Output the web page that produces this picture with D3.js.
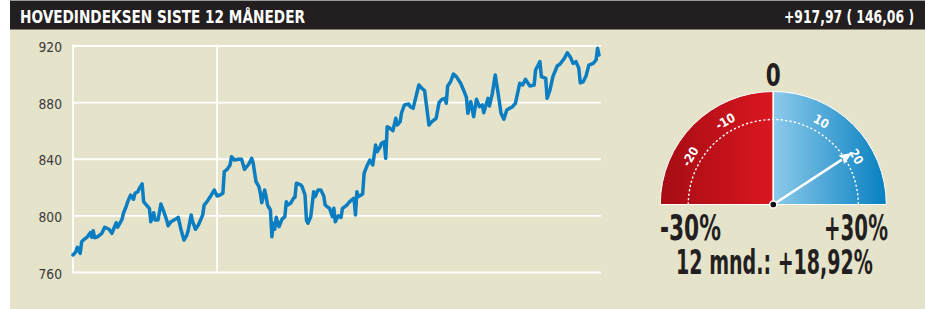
<!DOCTYPE html>
<html><head><meta charset="utf-8">
<script src="https://cdn.jsdelivr.net/npm/d3@7"></script>
<style>
html,body{margin:0;padding:0;background:#fff;}
svg{display:block;}
text{font-family:"Liberation Sans Narrow","DejaVu Sans Condensed","Arial Narrow",sans-serif;}
</style></head>
<body>
<script>
// ---------- DATA ----------
const title = "HOVEDINDEKSEN SISTE 12 MÅNEDER";
const headerValue = "+917,97 ( 146,06 )";
const yTicks = [760, 800, 840, 880, 920];
const vLineDays = [0, 100];
const days = [0,2,3,5,6,8,10,12,13,14,15,17,20,22,25,27,30,31,34,35,37,38,40,42,43,45,46,48,49,51,53,54,56,57,59,61,63,65,66,68,71,73,75,77,79,80,82,83,85,87,89,90,91,93,96,98,100,102,104,105,107,109,110,112,115,117,119,122,124,125,127,129,130,131,133,134,135,137,138,139,140,141,143,145,147,148,149,151,153,154,155,158,159,161,162,163,165,167,168,170,172,174,175,178,180,181,182,184,186,187,190,192,195,196,197,198,201,202,204,206,208,210,211,213,214,216,217,218,220,222,224,225,227,228,230,233,234,236,238,240,242,244,247,249,252,254,256,258,259,260,262,264,266,269,271,273,274,276,278,280,282,284,285,288,289,291,293,295,297,299,301,305,307,308,310,312,314,317,320,321,324,325,328,329,331,333,336,338,341,343,345,347,349,351,352,354,356,358,361,363,364,365];
const closes = [772.0,774.3,777.4,773.2,781.4,783.3,784.9,787.8,784.5,789.2,784.2,784.9,787.3,791.6,790.2,787.3,794.8,791.6,797.2,801.5,806.6,809.7,814.4,811.4,815.6,816.7,819.1,822.2,809.7,807.3,805.0,795.5,801.9,796.7,796.7,808.0,802.6,796.7,792.7,795.5,797.2,798.6,789.7,782.6,786.1,789.7,800.3,795.5,790.2,793.2,797.9,800.3,807.3,809.7,814.4,817.9,813.7,814.4,815.6,830.9,832.5,835.6,841.4,839.1,839.6,839.6,832.5,836.3,840.3,837.2,823.8,820.3,815.6,809.0,817.9,813.2,807.3,803.8,784.9,794.4,790.2,798.6,792.0,797.2,799.1,809.7,807.3,808.5,812.1,812.8,822.7,821.5,820.3,814.4,796.7,794.4,799.1,816.7,813.2,817.9,817.9,813.7,807.3,805.0,799.1,805.0,795.5,799.6,798.6,805.0,807.3,809.7,812.1,800.3,816.7,813.2,815.1,829.7,834.9,839.1,835.6,849.7,845.0,848.1,850.9,852.0,840.3,862.6,861.5,859.8,868.6,863.8,866.2,872.5,878.0,878.7,876.8,875.6,883.8,892.1,889.8,888.1,863.8,866.2,868.6,879.6,882.0,882.7,879.2,891.4,894.4,899.9,898.0,893.3,888.6,883.4,872.1,880.3,869.7,882.0,876.8,878.0,872.5,882.7,877.3,886.2,899.2,886.2,872.1,867.9,874.4,876.8,879.2,883.8,893.3,892.1,896.1,891.4,892.1,902.7,908.6,898.0,896.8,882.7,888.6,898.0,905.5,906.9,911.0,914.9,912.1,907.4,908.6,903.9,893.7,894.4,898.5,906.2,907.4,909.8,918.0,913.3];
const gaugeMin = -30, gaugeMax = 30;
const gaugeTicks = [-20, -10, 10, 20];
const gaugeValue = 18.92;
const gaugeMinLabel = "-30%", gaugeMaxLabel = "+30%", gaugeZeroLabel = "0";
const changeLabel = "12 mnd.: +18,92%";

// ---------- DRAW ----------
const W = 925, H = 309;
const svg = d3.select("body").append("svg").attr("width", W).attr("height", H);

// text fitted horizontally to a measured width (condensed look)
function fitText(parent, str, x0, yb, width, size, fill) {
  const t = parent.append("text").attr("x", 0).attr("y", 0)
    .attr("font-size", size).attr("font-weight", "bold").attr("fill", fill).text(str);
  const w = t.node().getComputedTextLength() || width;
  t.attr("transform", `translate(${x0},${yb}) scale(${width / w},1)`);
  return t;
}

// panel + header
svg.append("rect").attr("x", 10).attr("y", 0).attr("width", W - 10).attr("height", H).attr("fill", "#e6e3cb");
svg.append("rect").attr("x", 10).attr("y", 0).attr("width", W - 10).attr("height", 1).attr("fill", "#9a9a9a");
svg.append("rect").attr("x", 10).attr("y", 1).attr("width", W - 10).attr("height", 28.5).attr("fill", "#231f20");
fitText(svg, title, 20, 22.7, 285, 16.8, "#fff");
fitText(svg, headerValue, 784, 22.7, 130, 16.8, "#fff");

// line chart
const x = d3.scaleLinear().domain([0, 365]).range([73, 599]);
const y = d3.scaleLinear().domain([760, 920]).range([272, 45.5]);

const yAxis = d3.axisLeft(y).tickValues(yTicks).tickSize(-(601 - 73)).tickPadding(11).tickFormat(d3.format("d"));
const ga = svg.append("g").attr("transform", "translate(73,0)").call(yAxis);
ga.select(".domain").remove();
ga.selectAll(".tick line").attr("stroke", "#fff").attr("stroke-width", 1.8);
ga.selectAll(".tick text").attr("fill", "#3a3a3a").attr("font-size", 14.5)
  .attr("dy", "0.42em").attr("textLength", 23.5).attr("lengthAdjust", "spacingAndGlyphs")
  .style("font-family", '"Liberation Sans Narrow","DejaVu Sans Condensed",sans-serif');

svg.append("g").selectAll("line").data(vLineDays).join("line")
  .attr("x1", d => x(d)).attr("x2", d => x(d))
  .attr("y1", y(920) - 0.9).attr("y2", y(760) + 0.9)
  .attr("stroke", "#fff").attr("stroke-width", 1.8);

const pts = days.map((d, i) => [d, closes[i]]);
svg.append("path").datum(pts)
  .attr("d", d3.line().x(d => x(d[0])).y(d => y(d[1])))
  .attr("fill", "none").attr("stroke", "#0b7dc1").attr("stroke-width", 3.5)
  .attr("stroke-linejoin", "round").attr("stroke-linecap", "round");

// gauge
const cx = 773.3, cy = 204.5, R = 113, Rd = 85, Rl = 96;
const ang = d3.scaleLinear().domain([gaugeMin, gaugeMax]).range([-90, 90]);
const defs = svg.append("defs");
const gl = defs.append("linearGradient").attr("id", "gRed").attr("gradientUnits", "userSpaceOnUse")
  .attr("x1", -R).attr("x2", 0).attr("y1", 0).attr("y2", 0);
gl.append("stop").attr("offset", 0).attr("stop-color", "#a60c14");
gl.append("stop").attr("offset", 1).attr("stop-color", "#d9171f");
const gr = defs.append("linearGradient").attr("id", "gBlue").attr("gradientUnits", "userSpaceOnUse")
  .attr("x1", 0).attr("x2", R).attr("y1", 0).attr("y2", 0);
gr.append("stop").attr("offset", 0).attr("stop-color", "#8ccaea");
gr.append("stop").attr("offset", 1).attr("stop-color", "#0780c1");

const gg = svg.append("g").attr("transform", `translate(${cx},${cy})`);
const arc = d3.arc().innerRadius(0).outerRadius(R);
const rad = d => ang(d) * Math.PI / 180;
gg.append("path").attr("d", arc({startAngle: rad(gaugeMin), endAngle: rad(0)}))
  .attr("fill", "url(#gRed)").attr("stroke", "#fff").attr("stroke-width", 1);
gg.append("path").attr("d", arc({startAngle: rad(0), endAngle: rad(gaugeMax)}))
  .attr("fill", "url(#gBlue)").attr("stroke", "#fff").attr("stroke-width", 1);
gg.append("line").attr("x1", 0).attr("x2", 0).attr("y1", 0).attr("y2", -R)
  .attr("stroke", "#fff").attr("stroke-width", 1.5);
const dp = d3.path();
dp.arc(0, 0, Rd, Math.PI, 2 * Math.PI);
gg.append("path").attr("d", dp.toString()).attr("fill", "none")
  .attr("stroke", "#fff").attr("stroke-width", 1.4).attr("stroke-dasharray", "2.2,2.2");

gg.selectAll("text.gt").data(gaugeTicks).join("text").attr("class", "gt")
  .attr("transform", d => {
    const a = rad(d);
    return `translate(${Math.sin(a) * Rl},${-Math.cos(a) * Rl}) rotate(${ang(d)})`;
  })
  .attr("text-anchor", "middle").attr("dy", "0.36em")
  .attr("fill", "#fff").attr("font-size", 12.5).attr("font-weight", "bold")
  .text(d => d);

// needle
const na = rad(gaugeValue), L = 93;
const tipX = Math.sin(na) * L, tipY = -Math.cos(na) * L;
const ux = Math.sin(na), uy = -Math.cos(na), px = -uy, py = ux;
const baseL = L - 11;
gg.append("line").attr("x1", 0).attr("y1", 0)
  .attr("x2", ux * baseL).attr("y2", uy * baseL)
  .attr("stroke", "#fff").attr("stroke-width", 2.6);
gg.append("path")
  .attr("d", `M${tipX},${tipY}L${ux * baseL + px * 4.5},${uy * baseL + py * 4.5}L${ux * (baseL + 2)},${uy * (baseL + 2)}L${ux * baseL - px * 4.5},${uy * baseL - py * 4.5}Z`)
  .attr("fill", "#fff").attr("stroke", "#fff").attr("stroke-width", 1).attr("stroke-linejoin", "round");
gg.append("circle").attr("r", 3.6).attr("fill", "#111").attr("stroke", "#fff").attr("stroke-width", 1.5);

// gauge texts
const tcol = "#231f20";
fitText(svg, gaugeZeroLabel, cx - 7.5, 86, 15, 32, tcol);
fitText(svg, gaugeMinLabel, 660, 240, 61, 36, tcol);
fitText(svg, gaugeMaxLabel, 824, 240, 64, 36, tcol);
fitText(svg, changeLabel, 676, 274, 197, 33, tcol);
</script>
</body></html>
